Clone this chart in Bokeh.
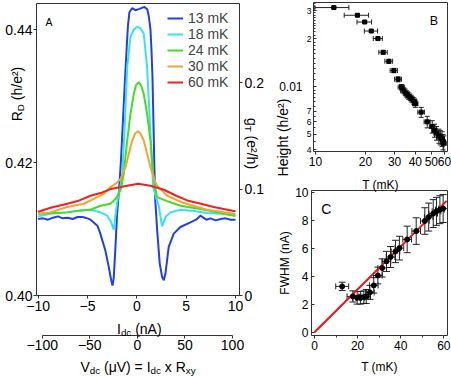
import math
from bokeh.plotting import figure
from bokeh.models import (Range1d, LinearAxis, LogAxis, LogScale, FixedTicker, Label, Whisker,
                          TeeHead, ColumnDataSource, NumeralTickFormatter, BasicTickFormatter)
from bokeh.embed import file_html
from bokeh.resources import INLINE

FONT = "Liberation Sans"
AX = "#333333"

# ---------------- Panel A data: R_D (h/e^2) vs I_dc (nA) ----------------
I_13 = [-10, -9.5, -9, -8.5, -8, -7.5, -7, -6.5, -6, -5.5, -5, -4.7, -4.0, -3.7, -3.2, -2.85, -2.6,
        -2.47, -2.34, -2.17, -2.0, -1.81, -1.61, -1.41, -1.21, -1.02, -0.9, -0.75, -0.48, -0.14,
        0.26, 0.77, 1.07, 1.23, 1.38, 1.48, 1.58, 1.68, 1.78, 1.88, 2.06, 2.32, 2.56, 2.73, 2.9,
        3.23, 3.74, 4.42, 5.43, 6.0, 6.44, 7.05, 7.46, 8.0, 8.5, 9.0, 9.5, 10]
R_13 = [0.4115, 0.4116, 0.4114, 0.4117, 0.4119, 0.4116, 0.4117, 0.4115, 0.4118, 0.4118, 0.4116,
        0.4114, 0.4105, 0.4093, 0.4068, 0.4043, 0.4023, 0.4015, 0.4027, 0.4072, 0.4123, 0.4158,
        0.4203, 0.4263, 0.4323, 0.4376, 0.4406, 0.4426, 0.4432, 0.4429, 0.4431, 0.4434, 0.4430,
        0.4418, 0.4400, 0.4370, 0.4330, 0.4263, 0.4190, 0.4140, 0.4098, 0.4048, 0.4028, 0.4023,
        0.4033, 0.4073, 0.4093, 0.4103, 0.4110, 0.4114, 0.4120, 0.4114, 0.4116, 0.4113, 0.4115,
        0.4116, 0.4114, 0.4114]

I_18 = [-10, -8.75, -7.06, -5.7, -4.7, -3.7, -3.0, -2.6, -2.34, -2.0, -1.75, -1.5, -1.26, -0.98,
        -0.65, -0.3, 0.03, 0.35, 0.7, 1.04, 1.38, 1.65, 1.9, 2.22, 2.56, 2.9, 3.4, 4.42, 5.77,
        7.12, 8.47, 9.82, 10]
R_18 = [0.4119, 0.4123, 0.4125, 0.4128, 0.4129, 0.4125, 0.4120, 0.4110, 0.4099, 0.4140, 0.4160,
        0.4175, 0.4244, 0.4343, 0.4389, 0.4400, 0.4404, 0.4402, 0.4394, 0.4343, 0.4243, 0.4163,
        0.4150, 0.4135, 0.4104, 0.4118, 0.4125, 0.4129, 0.4127, 0.4124, 0.4123, 0.4121, 0.4121]

I_24 = [-10, -8.75, -7.06, -5.71, -4.7, -3.69, -2.67, -2.17, -1.85, -1.59, -1.33, -0.98, -0.65,
        -0.31, -0.1, 0.19, 0.45, 0.70, 1.04, 1.38, 1.65, 1.88, 2.06, 3.07, 4.42, 6.44, 8.14,
        9.82, 10]
R_24 = [0.4123, 0.4124, 0.4125, 0.4128, 0.4129, 0.4135, 0.4138, 0.4145, 0.4152, 0.4162, 0.4183,
        0.4233, 0.4273, 0.4303, 0.4316, 0.4321, 0.4315, 0.4303, 0.4273, 0.4233, 0.4183, 0.4160,
        0.4148, 0.4142, 0.4135, 0.4130, 0.4125, 0.4120, 0.4120]

I_30 = [-10, -8.75, -7.06, -5.38, -4.02, -3.35, -2.67, -2.0, -1.66, -1.15, -0.82, -0.48, -0.15,
        0.13, 0.4, 0.70, 1.04, 1.38, 1.88, 2.06, 3.07, 4.75, 7.12, 9.82, 10]
R_30 = [0.4123, 0.4125, 0.4133, 0.4138, 0.4148, 0.4153, 0.4163, 0.4170, 0.4175, 0.4193, 0.4213,
        0.4233, 0.4244, 0.4247, 0.4243, 0.4233, 0.4213, 0.4193, 0.4170, 0.4165, 0.4150, 0.4139,
        0.4129, 0.4123, 0.4123]

I_60 = [-10, -8.75, -7.06, -6.0, -4.7, -3.5, -2.67, -2.0, -0.98, 0.13, 1.38, 2.73, 4.0, 5.1,
        6.5, 7.8, 9.82, 10]
R_60 = [0.4126, 0.4132, 0.4138, 0.4142, 0.4150, 0.4155, 0.4160, 0.4162, 0.4165, 0.4168, 0.4165,
        0.4159, 0.4150, 0.4143, 0.4138, 0.4133, 0.4127, 0.4127]

A_labels = ["13 mK", "18 mK", "24 mK", "30 mK", "60 mK"]
A_colors = ["#2040e6", "#33e3f5", "#44dd22", "#f5a331", "#ee2222"]

A_yticks = [0.40, 0.42, 0.44]
A_gticks = [0, 0.1, 0.2]
A_xticks = [-10, -5, 0, 5, 10]
A_vticks = [-100, -50, 0, 50, 100]

# ---------------- Panel B data: peak height vs T ----------------
T_b = [12.9, 17.9, 19.8, 21.7, 23.8, 25.6, 27.7, 29.7, 31.5, 33.0, 34.1, 35.4, 36.5, 37.8,
       39.2, 40.0, 43.4, 47.2, 50.6, 52.2, 53.7, 55.5, 56.6, 58.0, 58.8, 59.4]
H_b = [0.0313, 0.0280, 0.0254, 0.0223, 0.0200, 0.0164, 0.0144, 0.0126, 0.0111, 0.0099, 0.0094,
       0.0090, 0.0087, 0.0084, 0.0081, 0.0078, 0.0069, 0.0060, 0.0056, 0.0053, 0.0051, 0.0049,
       0.0048, 0.0047, 0.0045, 0.0044]
dT_b = [3, 3, 2, 2, 1.5, 1.5, 1.5, 1.5, 1.5, 1.5, 1.5, 1.5, 1.5, 1.5, 1.5, 1.5, 2, 2, 2, 2,
        2, 2, 2, 2, 2, 2]
dH_b = [0.0004] * 16 + [0.0005] * 10
B_yticks = [0.004, 0.005, 0.006, 0.007, 0.01, 0.02, 0.03]
B_ylabels = ["4", "5", "6", "7", "", "2", "3"]
B_yminor = [0.0045, 0.0055, 0.0065, 0.0075, 0.008, 0.0085, 0.009, 0.0095, 0.011, 0.012, 0.013,
            0.014, 0.015, 0.016, 0.017, 0.018, 0.019, 0.021, 0.022, 0.023, 0.024, 0.025, 0.026,
            0.027, 0.028, 0.029, 0.031, 0.032, 0.033]
B_xticks = [10, 20, 30, 40, 50, 60]

# ---------------- Panel C data: FWHM vs T ----------------
T_c = [12.85, 17.8, 19.8, 21.3, 22.9, 24.0, 25.7, 27.5, 29.4, 31.4, 33.4, 35.3, 37.6, 39.4,
       43.0, 47.2, 51.2, 53.0, 55.1, 56.6, 58.2, 59.7]
F_c = [3.28, 2.56, 2.46, 2.46, 2.51, 2.56, 2.85, 3.35, 4.06, 4.6, 5.07, 5.38, 5.78, 6.02,
       6.64, 7.24, 7.96, 8.24, 8.49, 8.65, 8.77, 8.85]
dT_c = [3, 2.7, 2, 2, 2, 2, 2, 2, 2, 2, 2, 2, 2, 2, 2, 2, 2, 2, 2, 2, 2, 2]
dF_c = [0.3, 0.4, 0.45, 0.45, 0.45, 0.5, 0.5, 0.55, 0.6, 0.65, 0.72, 0.75, 0.8, 0.85, 0.95,
        0.95, 0.95, 1.0, 1.0, 1.0, 1.0, 1.0]
T_fit = [0, 61.3]
F_fit = [0, 9.4]
C_yticks = [0, 2, 4, 6, 8, 10]
C_xticks = [0, 20, 40, 60]
C_xminor = [10, 30, 50]

# ---------------- geometry helpers (canvas pixels) ----------------
W, H = 451, 376


def lin_range(v0, p0, v1, p1, P):
    k = (v1 - v0) / (p1 - p0)
    return (v0 - p0 * k, v0 + (P - p0) * k)


def log_range(v0, p0, v1, p1, P):
    a, b = lin_range(math.log(v0), p0, math.log(v1), p1, P)
    return (math.exp(a), math.exp(b))


def at(rng, pix, P, log=False):
    s, e = rng
    if log:
        return math.exp(math.log(s) + (math.log(e) - math.log(s)) * pix / P)
    return s + (e - s) * pix / P


# panel frames in canvas pixels: (left, right, top, bottom), measured from the top-left
A_box = (36, 239, 3, 295)
B_box = (313, 447, 2, 151)
C_box = (311, 447, 190, 335)

A_xr = lin_range(-10, 37.7, 10, 235, W)
A_yr = lin_range(0.40, H - 295, 0.44, H - 29, H)
A_gr = lin_range(0.0, H - 295, 0.2, H - 82, H)
A_vr = lin_range(-100, 41.7, 100, 232, W)
B_xr = log_range(10, 315, 60, 444, W)
B_yr = log_range(0.01, H - 86, 0.03, H - 10, H)
C_xr = lin_range(0, 314, 60, 443.3, W)
C_yr = lin_range(0, H - 331.7, 10, H - 192, H)

p = figure(width=W, height=H, x_range=Range1d(0, W), y_range=Range1d(0, H),
           x_axis_location=None, y_axis_location=None, min_border=0, min_border_left=0,
           min_border_right=0, min_border_top=0, min_border_bottom=0,
           output_backend="svg", toolbar_location=None)
p.grid.visible = False
p.outline_line_color = None
p.background_fill_color = "white"
p.border_fill_color = "white"
p.extra_x_ranges = {"ax": Range1d(*A_xr), "av": Range1d(*A_vr), "bx": Range1d(*B_xr),
                    "cx": Range1d(*C_xr)}
p.extra_y_ranges = {"ay": Range1d(*A_yr), "ag": Range1d(*A_gr), "by": Range1d(*B_yr),
                    "cy": Range1d(*C_yr)}
p.extra_x_scales = {"bx": LogScale()}
p.extra_y_scales = {"by": LogScale()}


def edges(box, xr, yr, xlog=False, ylog=False):
    l, r, t, b = box
    return (at(xr, l, W, xlog), at(xr, r, W, xlog), at(yr, H - b, H, ylog), at(yr, H - t, H, ylog))


def add_axis(side, xr, yr, loc, ticks, bounds, minor=None, fs=14, t_in=0, t_out=3, m_in=0,
             m_out=0, standoff=2, formatter=None, overrides=None, log=False):
    cls = LogAxis if log else LinearAxis
    ax = cls(x_range_name=xr, y_range_name=yr, fixed_location=loc,
             ticker=FixedTicker(ticks=ticks, minor_ticks=minor or []), bounds=bounds)
    if formatter is not None:
        ax.formatter = formatter
    if overrides:
        ax.major_label_overrides = overrides
    ax.axis_line_color = AX
    ax.axis_line_width = 1
    ax.major_tick_line_color = AX
    ax.minor_tick_line_color = AX
    ax.major_tick_in = t_in
    ax.major_tick_out = t_out
    ax.minor_tick_in = m_in
    ax.minor_tick_out = m_out
    ax.major_label_standoff = standoff
    ax.major_label_text_font = FONT
    ax.major_label_text_font_size = f"{fs}px"
    ax.major_label_text_color = "black"
    p.add_layout(ax, side)
    return ax


WID = {' ': 278, '(': 333, ')': 333, '/': 278, '=': 584, 'x': 500, 'y': 500, 'h': 556,
       'e': 556, '²': 333, 'R': 722, 'D': 722, 'I': 278, 'd': 556, 'c': 500, 'n': 556,
       'A': 667, 'V': 667, 'μ': 576, 'g': 556, 'T': 611, 'H': 722, 'i': 222, 't': 278,
       'F': 611, 'W': 944, 'M': 833, 'm': 833, 'K': 667, '.': 278}


def tw(s, fs):
    return sum(WID.get(ch, 556) for ch in s) / 1000.0 * fs


def rich(parts, cx, cy_top, fs, angle=0.0):
    """Text with subscripts, visual centre at canvas (cx, cy_top from top)."""
    cy = H - cy_top
    sizes = [fs * (0.7 if m == 's' else 1.0) for _, m in parts]
    widths = [tw(t, s) for (t, _), s in zip(parts, sizes)]
    total = sum(widths)
    dx, dy = math.cos(angle), math.sin(angle)
    nx, ny = -math.sin(angle), math.cos(angle)
    ox = cx - dx * total / 2 - nx * 0.35 * fs
    oy = cy - dy * total / 2 - ny * 0.35 * fs
    pos = 0.0
    for (t, m), s, w in zip(parts, sizes, widths):
        lead = len(t) - len(t.lstrip(' '))
        shift = tw(' ' * lead, s)
        off = -0.25 * fs if m == 's' else 0.0
        x = ox + dx * (pos + shift) + nx * off
        y = oy + dy * (pos + shift) + ny * off
        p.add_layout(Label(x=x, y=y, x_units='screen', y_units='screen', text=t.strip(' '),
                           text_font=FONT, text_font_size=f"{s:.1f}px", text_color="black",
                           angle=angle, text_align='left', text_baseline='alphabetic'))
        pos += w


def plain(text, x, y_top, fs, align='left', baseline='alphabetic'):
    p.add_layout(Label(x=x, y=H - y_top, x_units='screen', y_units='screen', text=text,
                       text_font=FONT, text_font_size=f"{fs}px", text_color="black",
                       text_align=align, text_baseline=baseline))


# ---------------- Panel A ----------------
for xs, ys, lab, col in zip([I_13, I_18, I_24, I_30, I_60], [R_13, R_18, R_24, R_30, R_60],
                            A_labels, A_colors):
    p.line(xs, ys, line_color=col, line_width=2, legend_label=lab,
           x_range_name="ax", y_range_name="ay")

aL, aR, aB, aT = edges(A_box, A_xr, A_yr)
gB, gT = at(A_gr, H - A_box[3], H), at(A_gr, H - A_box[2], H)
add_axis("left", "ax", "ay", aL, A_yticks, (aB, aT), fs=14, t_out=3, standoff=1,
         formatter=NumeralTickFormatter(format="0.00"))
add_axis("below", "ax", "ay", aB, A_xticks, (aL, aR), fs=14, t_out=3, standoff=2)
add_axis("right", "ax", "ag", aR, A_gticks, (gB, gT), fs=14, t_out=3, standoff=2,
         formatter=NumeralTickFormatter(format="0.[0]"))
add_axis("above", "ax", "ay", aT, [], (aL, aR))
add_axis("below", "av", "ay", at(A_yr, H - 335, H), A_vticks, (-100, 100), fs=14, t_out=3,
         standoff=1)

lg = p.legend[0]
lg.location = (167, H - 90)
lg.border_line_color = None
lg.background_fill_alpha = 0
lg.padding = 0
lg.margin = 0
lg.spacing = 0
lg.label_height = 16
lg.glyph_height = 16
lg.glyph_width = 16
lg.label_standoff = 5
lg.label_text_font = FONT
lg.label_text_font_size = "14px"

rich([("R", 'n'), ("D", 's'), (" (h/e²)", 'n')], 11.5, 93.5, 14, math.pi / 2)
rich([("g", 'n'), ("T", 's'), (" (e²/h)", 'n')], 256, 143, 14, -math.pi / 2)
rich([("I", 'n'), ("dc", 's'), (" (nA)", 'n')], 138.8, 323.3, 14)
rich([("V", 'n'), ("dc", 's'), (" (μV) = I", 'n'), ("dc", 's'), (" x R", 'n'), ("xy", 's')],
     137.5, 361.7, 14)
plain("A", 45, 21.5, 10.5)

# ---------------- Panel B ----------------
srcB = ColumnDataSource(dict(T=T_b, H=H_b,
                             Tl=[t - d for t, d in zip(T_b, dT_b)],
                             Tu=[t + d for t, d in zip(T_b, dT_b)],
                             Hl=[h - d for h, d in zip(H_b, dH_b)],
                             Hu=[h + d for h, d in zip(H_b, dH_b)]))
for base, lo, hi, dim in [("H", "Tl", "Tu", "width"), ("T", "Hl", "Hu", "height")]:
    p.add_layout(Whisker(source=srcB, base=base, lower=lo, upper=hi, dimension=dim,
                         x_range_name="bx", y_range_name="by",
                         line_color="#222222", line_width=1,
                         lower_head=TeeHead(size=5, line_color="#222222"),
                         upper_head=TeeHead(size=5, line_color="#222222")))
p.scatter("T", "H", source=srcB, marker="square", size=4, color="black",
          x_range_name="bx", y_range_name="by")

bL, bR, bB, bT = edges(B_box, B_xr, B_yr, True, True)
add_axis("left", "bx", "by", bL, B_yticks, (bB, bT), minor=B_yminor, fs=8.5, t_in=3, t_out=0,
         m_in=2, standoff=2, formatter=BasicTickFormatter(),
         overrides={t: l for t, l in zip(B_yticks, B_ylabels)}, log=True)
add_axis("below", "bx", "by", bB, B_xticks, (bL, bR), fs=12, t_out=3, standoff=2,
         formatter=BasicTickFormatter(), log=True)
add_axis("right", "bx", "by", bR, [], (bB, bT), log=True)
add_axis("above", "bx", "by", bT, [], (bL, bR), log=True)
plain("0.01", 302, 86, 12, align='right', baseline='middle')
rich([("Height (h/e²)", 'n')], 278, 137, 14, math.pi / 2)
plain("T (mK)", 380, 184.2, 12, align='center')
plain("B", 437.7, 20.7, 12.5, align='right')

# ---------------- Panel C ----------------
p.line(T_fit, F_fit, line_color="#ee1111", line_width=2, x_range_name="cx", y_range_name="cy")
srcC = ColumnDataSource(dict(T=T_c, F=F_c,
                             Tl=[t - d for t, d in zip(T_c, dT_c)],
                             Tu=[t + d for t, d in zip(T_c, dT_c)],
                             Fl=[f - d for f, d in zip(F_c, dF_c)],
                             Fu=[f + d for f, d in zip(F_c, dF_c)]))
for base, lo, hi, dim, sz in [("F", "Tl", "Tu", "width", 6), ("T", "Fl", "Fu", "height", 7)]:
    p.add_layout(Whisker(source=srcC, base=base, lower=lo, upper=hi, dimension=dim,
                         x_range_name="cx", y_range_name="cy",
                         line_color="#222222", line_width=1,
                         lower_head=TeeHead(size=sz, line_color="#222222"),
                         upper_head=TeeHead(size=sz, line_color="#222222")))
p.scatter("T", "F", source=srcC, marker="circle", size=5, color="black",
          x_range_name="cx", y_range_name="cy")

cL, cR, cB, cT = edges(C_box, C_xr, C_yr)
add_axis("left", "cx", "cy", cL, C_yticks, (cB, cT), fs=12, t_in=3, t_out=0, standoff=3)
add_axis("below", "cx", "cy", cB, C_xticks, (cL, cR), minor=C_xminor, fs=12, t_out=3,
         m_out=2, standoff=2)
add_axis("right", "cx", "cy", cR, [], (cB, cT))
add_axis("above", "cx", "cy", cT, [], (cL, cR))
rich([("FWHM (nA)", 'n')], 280, 262.5, 12, math.pi / 2)
plain("T (mK)", 379, 366.2, 12, align='center')
plain("C", 320.7, 208.3, 14)

open("out.html", "w").write(file_html(p, INLINE))
